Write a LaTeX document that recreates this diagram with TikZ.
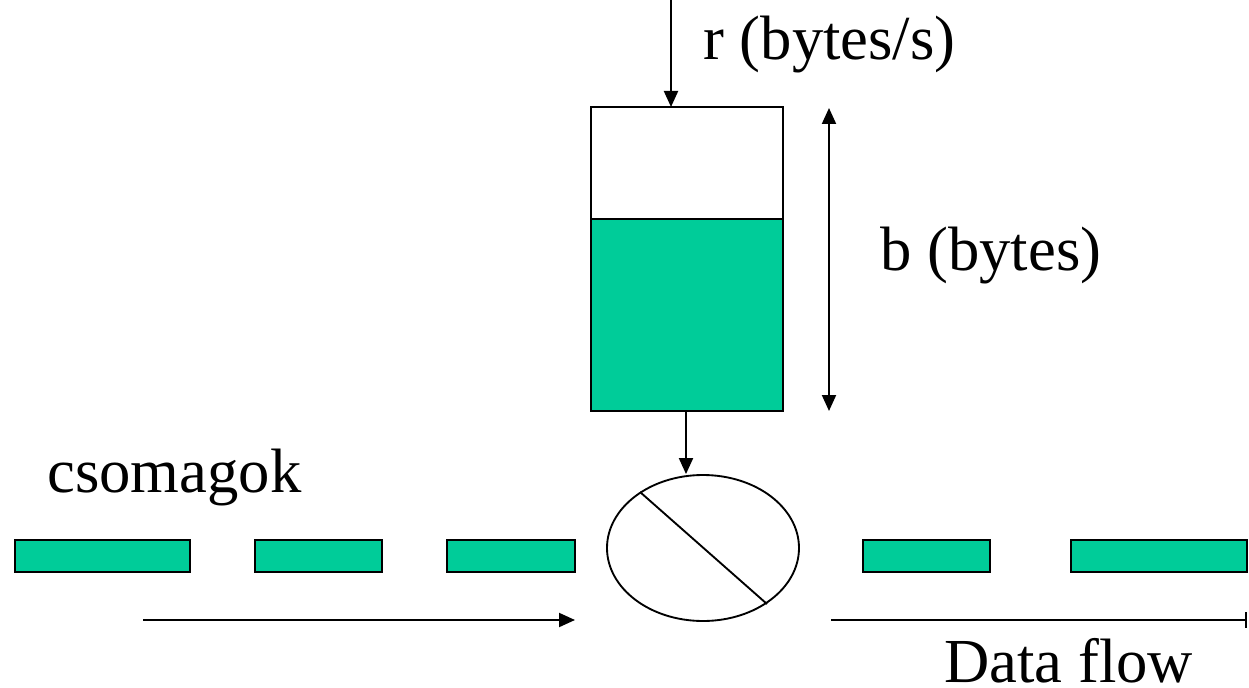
\documentclass[tikz,border=0pt]{standalone}
\usepackage{fontspec}
\setmainfont{Liberation Serif}
\usepackage{tikz}
\usetikzlibrary{positioning,calc,arrows.meta,shapes.geometric}
\definecolor{tokengreen}{HTML}{00CC99}
\tikzset{
  outline/.style  = {draw=black, line width=1.6pt},
  tokens/.style   = {draw=black, fill=tokengreen, line width=1.6pt},
  pkt/.style      = {draw=black, fill=tokengreen, line width=1.2pt},
  valve/.style    = {ellipse, draw=black, line width=1.4pt, fill=white,
                     minimum width=144pt, minimum height=109.5pt, inner sep=0pt},
  arr/.style      = {-{Triangle[length=12pt,width=10.5pt]}, line width=1.5pt},
  dblarr/.style   = {{Triangle[length=12pt,width=10.5pt]}-{Triangle[length=12pt,width=10.5pt]}, line width=1.5pt},
  flowline/.style = {-{Bar[width=12pt]}, line width=1.2pt},
  lbl/.style      = {font=\fontsize{47}{56}\selectfont, anchor=base west, inner sep=0pt},
}

\begin{document}
\begin{tikzpicture}[x=0.75pt,y=-0.75pt]
  \useasboundingbox (0,0) rectangle (1249,688);

  % token bucket
  \draw[tokens] (591,219) rectangle (783,411);
  \draw[outline] (591,107) rectangle (783,411);
  \coordinate (rtop) at (671,0);
  \coordinate (bucketin) at (671,107);
  \coordinate (bucketout) at (686,411);
  \draw[arr] (rtop) -- (bucketin);
  \node[lbl] (rate) at (703,60) {r (bytes/s)};

  % bucket depth
  \coordinate (depthtop) at (829,108);
  \coordinate (depthbot) at (829,411);
  \draw[dblarr] (depthtop) -- (depthbot);
  \node[lbl] (depth) at (880,270) {b (bytes)};

  % regulator
  \node[valve] (gate) at (703,548) {};
  \draw[line width=1.4pt] (640,492) -- (767,604);
  \draw[arr] (bucketout) -- (bucketout |- gate.north);

  % packets
  \draw[pkt] (15,540) rectangle (190,572);
  \draw[pkt] (255,540) rectangle (382,572);
  \draw[pkt] (447,540) rectangle (575,572);
  \draw[pkt] (863,540) rectangle (990,572);
  \draw[pkt] (1071,540) rectangle (1247,572);
  \node[lbl] (pkts) at (47,492) {csomagok};

  % flow direction
  \coordinate (inflowL) at (143,620);
  \coordinate (inflowR) at (575,620);
  \coordinate (outflowL) at (831,620);
  \coordinate (outflowR) at (1247,620);
  \draw[arr] (inflowL) -- (inflowR);
  \draw[flowline] (outflowL) -- (outflowR);
  \node[lbl] (flow) at (944,682) {Data flow};
\end{tikzpicture}
\end{document}
